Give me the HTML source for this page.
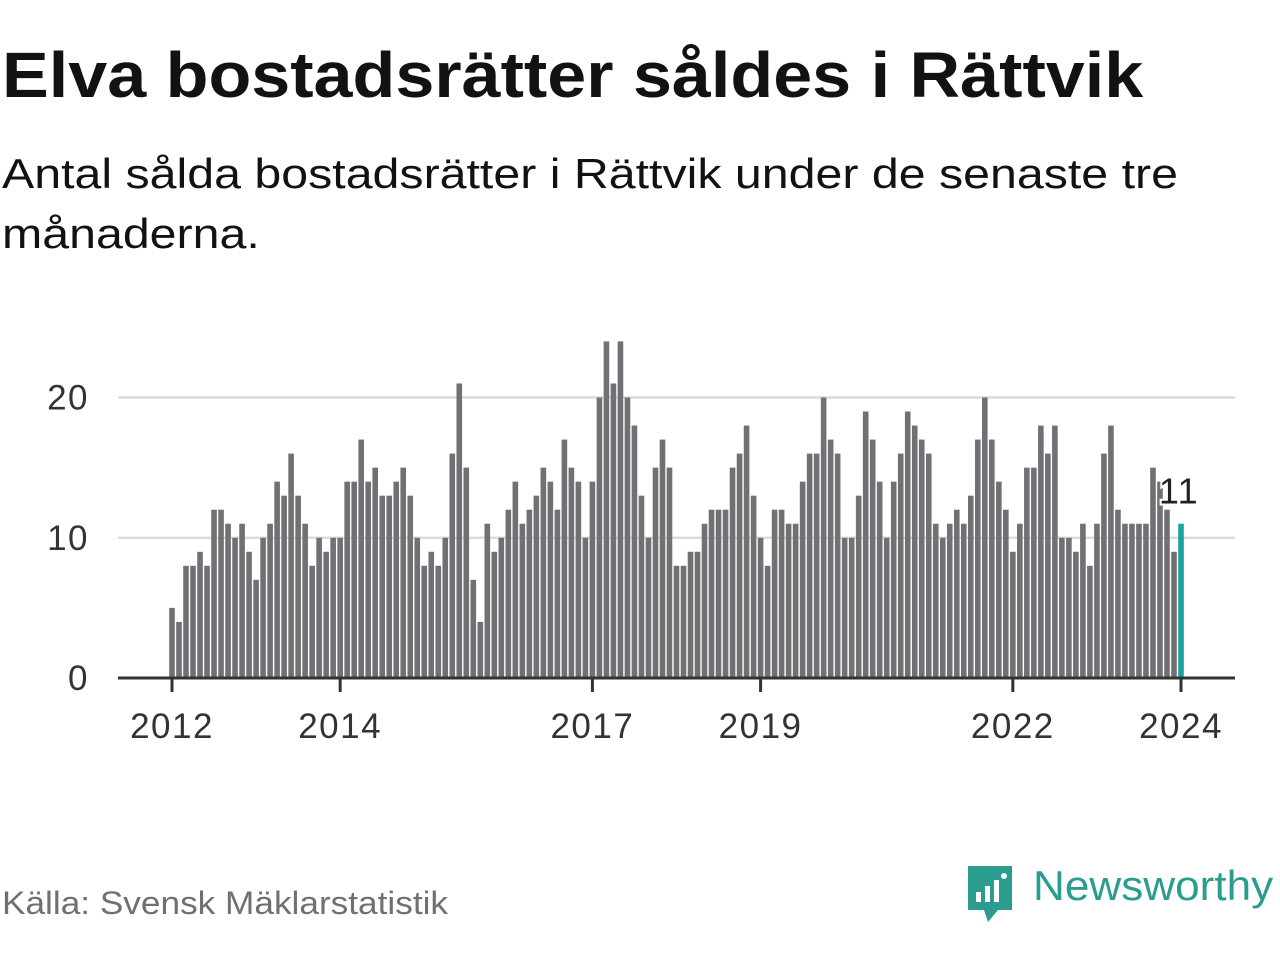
<!DOCTYPE html>
<html><head><meta charset="utf-8">
<style>
body{margin:0;background:#fff;font-family:"Liberation Sans",sans-serif;}
#wrap{position:relative;width:1280px;height:960px;overflow:hidden;}
h1{position:absolute;left:2px;top:38px;margin:0;font-size:64px;font-weight:bold;color:#121212;white-space:nowrap;transform-origin:0 0;transform:scaleX(1.095);}
.sub{position:absolute;left:2px;top:144px;margin:0;font-size:42px;line-height:60px;color:#121212;white-space:nowrap;transform-origin:0 0;transform:scaleX(1.15);}
.src{position:absolute;left:2px;top:885px;font-size:32px;color:#707070;white-space:nowrap;transform-origin:0 0;transform:scaleX(1.1);}
.logo{position:absolute;left:1033px;top:862px;font-size:42px;color:#2a9d8f;white-space:nowrap;transform-origin:0 0;transform:scaleX(1.05);}
</style></head><body>
<div id="wrap">
<h1>Elva bostadsrätter såldes i Rättvik</h1>
<p class="sub">Antal sålda bostadsrätter i Rättvik under de senaste tre<br>månaderna.</p>
<svg id="chart" width="1280" height="960" style="position:absolute;left:0;top:0"></svg>
<div class="src">Källa: Svensk Mäklarstatistik</div>
<svg style="position:absolute;left:964px;top:864px" width="52" height="62">
<path d="M4 2 H48 V46 H34 L24 58 L20 46 H4 Z" fill="#2a9d8f"/>
<rect x="12" y="28" width="5" height="10" fill="#fff"/><rect x="21" y="22" width="5" height="16" fill="#fff"/><rect x="30" y="16" width="5" height="22" fill="#fff"/><circle cx="40" cy="12" r="3" fill="#fff"/>
</svg>
<div class="logo">Newsworthy</div>
</div>
<script>
const values=[5,4,8,8,9,8,12,12,11,10,11,9,
7,10,11,14,13,16,13,11,8,10,9,10,
10,14,14,17,14,15,13,13,14,15,13,10,
8,9,8,10,16,21,15,7,4,11,9,10,
12,14,11,12,13,15,14,12,17,15,14,10,
14,20,24,21,24,20,18,13,10,15,17,15,
8,8,9,9,11,12,12,12,15,16,18,13,
10,8,12,12,11,11,14,16,16,20,17,16,
10,10,13,19,17,14,10,14,16,19,18,17,
16,11,10,11,12,11,13,17,20,17,14,12,
9,11,15,15,18,16,18,10,10,9,11,8,
11,16,18,12,11,11,11,11,15,14,12,9,
11];
const startYear=2012;
const yTicks=[0,10,20];
const xTickYears=[2012,2014,2017,2019,2022,2024];
const svg=document.getElementById('chart');
const NS='http://www.w3.org/2000/svg';
const x0=172,pxPerMonth=(1181-172)/144,y0=678,pxPerUnit=(678-397.5)/20;
const xs=i=>x0+i*pxPerMonth, ys=v=>y0-v*pxPerUnit;
function mk(t,a){const e=document.createElementNS(NS,t);for(const k in a)e.setAttribute(k,a[k]);svg.appendChild(e);return e;}
yTicks.forEach(t=>{
  if(t>0){const g=mk('line',{x1:118,x2:1235,y1:ys(t),y2:ys(t),stroke:'#dcdcdc','stroke-width':2.5});
  
  }
  const l=mk('text',{x:89,y:ys(t)+12,'text-anchor':'end','font-size':35,'letter-spacing':1.5,fill:'#333','font-family':'Liberation Sans, sans-serif'});
  l.textContent=t;
  
  
});
values.forEach((v,i)=>{
  const last=i===values.length-1;
  const r=mk('rect',{x:xs(i)-2.8,y:ys(v),width:5.6,height:y0-ys(v),fill:last?'#1ba39c':'#717075'});
  
  
});
const ax=mk('line',{x1:118,x2:1235,y1:y0,y2:y0,stroke:'#333','stroke-width':3});


xTickYears.forEach(yr=>{
  const x=xs((yr-startYear)*12);
  const t=mk('line',{x1:x,x2:x,y1:y0,y2:y0+14,stroke:'#333','stroke-width':3});
  
  
  const l=mk('text',{x:x,y:738,'text-anchor':'middle','font-size':35,'letter-spacing':1.5,fill:'#333','font-family':'Liberation Sans, sans-serif'});
  l.textContent=yr;
  
  
});
const lv=values[values.length-1];
const lab=mk('text',{x:xs(values.length-1)-2,y:ys(lv)-20,'text-anchor':'middle','font-size':36,'letter-spacing':1.5,fill:'#222','font-family':'Liberation Sans, sans-serif',stroke:'#fff','stroke-width':4,'paint-order':'stroke'});
lab.textContent=lv;


</script>
</body></html>
